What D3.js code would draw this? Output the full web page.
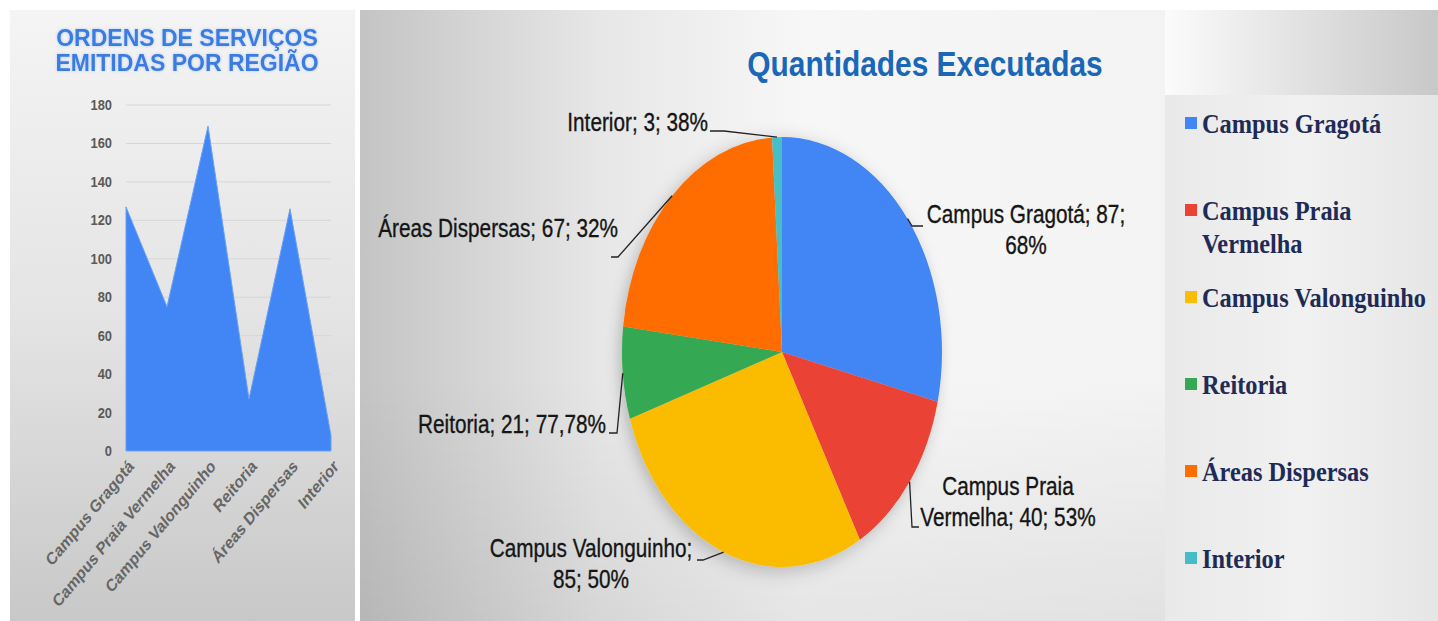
<!DOCTYPE html>
<meta charset="utf-8">
<style>
body { margin: 0; background: #fff; }
svg { display: block; font-family: "Liberation Sans", Arial, sans-serif; }
</style>
<body>
<svg width="1438" height="621"></svg>
<script src="https://d3js.org/d3.v7.min.js"></script>
<script>

// ordens de servico emitidas por regiao (area chart)
var regioes = ["Campus Gragotá", "Campus Praia Vermelha", "Campus Valonguinho", "Reitoria", "Áreas Dispersas", "Interior"];
var ordens = [127, 75, 169, 27, 126, 8];
var yTicks = [0, 20, 40, 60, 80, 100, 120, 140, 160, 180];

// quantidades executadas (pie)
var executadas = [87, 40, 85, 21, 67, 3];
var rotulos = [
    ["Campus Gragotá; 87;", "68%"],
    ["Campus Praia", "Vermelha; 40; 53%"],
    ["Campus Valonguinho;", "85; 50%"],
    ["Reitoria; 21; 77,78%"],
    ["Áreas Dispersas; 67; 32%"],
    ["Interior; 3; 38%"]
];
var cores = ["#4285f4", "#ea4335", "#fbbc04", "#34a853", "#ff6d01", "#46bdc6"];
var legenda = [["Campus Gragotá"], ["Campus Praia", "Vermelha"], ["Campus Valonguinho"], ["Reitoria"], ["Áreas Dispersas"], ["Interior"]];

var svg = d3.select("svg");
var squash = 0.83; // the source picture is stretched vertically

// ---------- backgrounds ----------
var defs = svg.append("defs");
function grad(id, x2, y2, stops) {
    var g = defs.append("linearGradient").attr("id", id)
        .attr("x1", 0).attr("y1", 0).attr("x2", x2).attr("y2", y2);
    stops.forEach(function(s) { g.append("stop").attr("offset", s[0]).attr("stop-color", s[1]); });
}
grad("bgLeft", 0, 1, [[0, "#f4f4f4"], [0.5, "#e4e4e4"], [1, "#c8c8c8"]]);
grad("bgMid", 1, 0, [[0, "#c4c4c4"], [0.3, "#e7e7e7"], [0.55, "#f7f7f7"], [1, "#f3f3f3"]]);
grad("bgMidV", 0, 1, [[0, "rgba(255,255,255,0)"], [0.6, "rgba(0,0,0,0)"], [1, "rgba(0,0,0,0.07)"]]);
grad("bgTopRight", 1, 0, [[0, "#fbfbfb"], [1, "#c8c8c8"]]);
grad("bgRight", 1, 0, [[0, "#e9e9e9"], [0.5, "#f1f1f1"], [1, "#e6e6e6"]]);

var shadow = defs.append("filter").attr("id", "pieShadow")
    .attr("x", "-20%").attr("y", "-20%").attr("width", "140%").attr("height", "140%");
shadow.append("feDropShadow").attr("dx", -3).attr("dy", 3).attr("stdDeviation", 7)
    .attr("flood-color", "#000").attr("flood-opacity", 0.22);

var glow = defs.append("filter").attr("id", "titleGlow")
    .attr("x", "-10%").attr("y", "-30%").attr("width", "120%").attr("height", "160%");
glow.append("feDropShadow").attr("dx", 0).attr("dy", 0).attr("stdDeviation", 1.5)
    .attr("flood-color", "#9cc0f5").attr("flood-opacity", 0.8);

svg.append("rect").attr("x", 10).attr("y", 10).attr("width", 345).attr("height", 611).attr("fill", "url(#bgLeft)");
svg.append("rect").attr("x", 360).attr("y", 10).attr("width", 805).attr("height", 611).attr("fill", "url(#bgMid)");
svg.append("rect").attr("x", 360).attr("y", 10).attr("width", 805).attr("height", 611).attr("fill", "url(#bgMidV)");
svg.append("rect").attr("x", 1165).attr("y", 10).attr("width", 273).attr("height", 85).attr("fill", "url(#bgTopRight)");
svg.append("rect").attr("x", 1165).attr("y", 95).attr("width", 273).attr("height", 526).attr("fill", "url(#bgRight)");

// helper: squashed text line
function label(g, x, y, txt, anchor, size, weight, fill, family, k) {
    return g.append("text")
        .attr("transform", "translate(" + x + "," + y + ") scale(" + (k || squash) + ",1)")
        .attr("text-anchor", anchor)
        .attr("font-size", size)
        .attr("font-weight", weight)
        .attr("fill", fill)
        .attr("font-family", family || null)
        .text(txt);
}

// ---------- left: area chart ----------
var left = svg.append("g");

label(left, 187, 46, "ORDENS DE SERVIÇOS", "middle", 23, "bold", "#3b7ce2", null, 1).attr("filter", "url(#titleGlow)");
label(left, 187, 71, "EMITIDAS POR REGIÃO", "middle", 23, "bold", "#3b7ce2", null, 1).attr("filter", "url(#titleGlow)");

var x = d3.scalePoint().domain(regioes).range([126, 331]);
var y = d3.scaleLinear().domain([0, 180]).range([451, 105]);

left.selectAll("line.grid")
    .data(yTicks.slice(1))
    .enter().append("line")
    .attr("class", "grid")
    .attr("x1", 126).attr("x2", 331)
    .attr("y1", function(d) { return y(d); })
    .attr("y2", function(d) { return y(d); })
    .attr("stroke", "#d6d6d6").attr("stroke-width", 1);

left.selectAll("g.ytick")
    .data(yTicks)
    .enter().append("g")
    .attr("class", "ytick")
    .each(function(d) {
        label(d3.select(this), 112, y(d) + 5, d, "end", 14, "bold", "#5a5a5a", null, 0.92);
    });

var area = d3.area()
    .x(function(d, i) { return x(regioes[i]); })
    .y0(y(0))
    .y1(function(d) { return y(d); });

left.append("path")
    .datum(ordens)
    .attr("d", area)
    .attr("fill", "#4285f4")
    .attr("stroke", "#6aa0f7")
    .attr("stroke-width", 1);

left.selectAll("text.xl")
    .data(regioes)
    .enter().append("text")
    .attr("class", "xl")
    .attr("transform", function(d) { return "translate(" + (x(d) + 5) + ",463) scale(" + squash + ",1) rotate(-45)"; })
    .attr("text-anchor", "end")
    .attr("dy", "0.35em")
    .attr("font-size", 17.5)
    .attr("font-weight", "bold")
    .attr("fill", "#666")
    .text(function(d) { return d; });

// ---------- middle: pie ----------
var mid = svg.append("g");
label(mid, 925, 76, "Quantidades Executadas", "middle", 36, "bold", "#1a67b8");

var cx = 782, cy = 352, r = 160, ry = 215;
var pie = d3.pie().sort(null).startAngle(0).endAngle(2 * Math.PI);
var arcs = pie(executadas);
var arc = d3.arc().innerRadius(0).outerRadius(r);

mid.append("g")
    .attr("transform", "translate(" + cx + "," + cy + ") scale(1," + (ry / r) + ")")
    .attr("filter", "url(#pieShadow)")
    .selectAll("path")
    .data(arcs)
    .enter().append("path")
    .attr("d", arc)
    .attr("fill", function(d, i) { return cores[i]; });

// label layout: text anchor point and knee points of the leader line
var layout = [
    { x: 1026, y: 223, anchor: "middle", knee: [[912, 226], [923, 226]] },
    { x: 1008, y: 495, anchor: "middle", knee: [[912, 527], [919, 527]] },
    { x: 591, y: 557, anchor: "middle", knee: [[703, 560], [697, 560]] },
    { x: 606, y: 433, anchor: "end", knee: [[617, 433], [609, 433]] },
    { x: 618, y: 237, anchor: "end", knee: [[618, 257], [611, 257]] },
    { x: 708, y: 131, anchor: "end", knee: [[724, 131], [710, 131]] }
];

var edge = d3.arc().innerRadius(r).outerRadius(r);
arcs.forEach(function(a, i) {
    var c = edge.centroid(a);
    var pts = [[cx + c[0], cy + c[1] * ry / r]].concat(layout[i].knee);
    mid.append("path")
        .attr("d", d3.line()(pts))
        .attr("fill", "none")
        .attr("stroke", "#222")
        .attr("stroke-width", 1.3);
    rotulos[i].forEach(function(t, j) {
        label(mid, layout[i].x, layout[i].y + j * 31, t, layout[i].anchor, 25, "normal", "#151515")
            .attr("stroke", "#151515").attr("stroke-width", 0.35);
    });
});

// ---------- right: legend ----------
var leg = svg.append("g");
legenda.forEach(function(lines, i) {
    var base = 133 + i * 87;
    leg.append("rect")
        .attr("x", 1185).attr("y", base - 16)
        .attr("width", 12).attr("height", 12)
        .attr("fill", cores[i]);
    lines.forEach(function(t, j) {
        label(leg, 1202, base + j * 33, t, "start", 28, "bold", "#1f2b57", "'Liberation Serif', 'Times New Roman', serif", 0.87);
    });
});

</script>
</body>
